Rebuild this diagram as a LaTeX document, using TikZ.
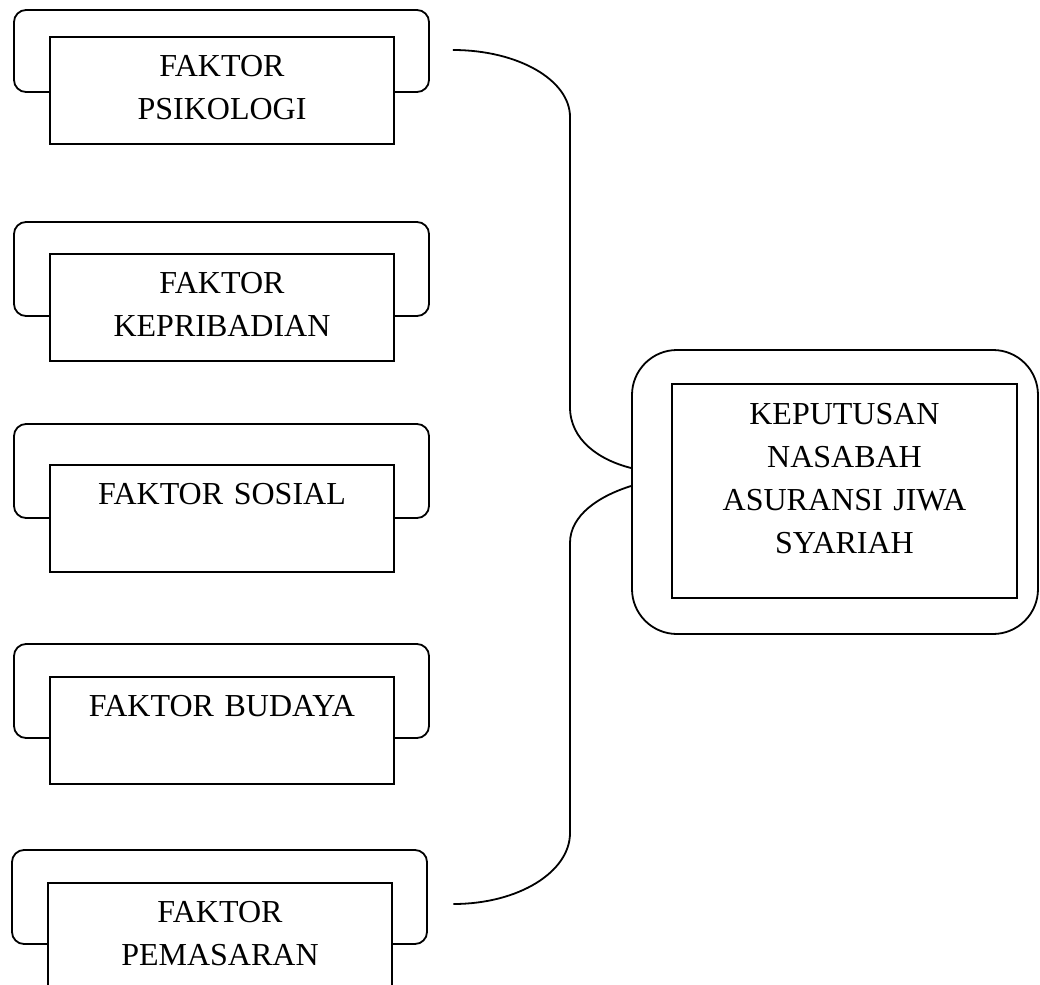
\documentclass[tikz,border=0pt]{standalone}
\usepackage{fontspec}
\setmainfont{Liberation Serif}
\usetikzlibrary{positioning,calc}
\tikzset{
  frame/.style={draw, line width=0.9pt, rounded corners=6pt, minimum width=207.5pt, minimum height=47pt, inner sep=0pt},
  factor/.style={draw, fill=white, line width=0.9pt, anchor=north, inner sep=0pt, text width=172pt, align=center, text height=20pt, text depth=33.5pt},
  link/.style={draw, line width=0.9pt}
}
\begin{document}
\begin{tikzpicture}[x=0.5pt,y=-0.5pt,font=\fontsize{16pt}{21.5pt}\selectfont]
  \useasboundingbox (0,0) rectangle (1040,985);
  % faktor-faktor
  \node[frame, minimum height=41pt] (fpsi) at (221.5,51) {};
  \node[factor] (psikologi) at (222,36) {FAKTOR\\PSIKOLOGI};
  \node[frame] (fkep) at (221.5,269) {};
  \node[factor] (kepribadian) at (222,253) {FAKTOR\\KEPRIBADIAN};
  \node[frame] (fsos) at (221.5,471) {};
  \node[factor] (sosial) at (222,464) {FAKTOR SOSIAL};
  \node[frame] (fbud) at (221.5,691) {};
  \node[factor] (budaya) at (222,676) {FAKTOR BUDAYA};
  \node[frame] (fpem) at (219.5,897) {};
  \node[factor] (pemasaran) at (220,882) {FAKTOR\\PEMASARAN};
  % keputusan
  \node[frame, rounded corners=22.5pt, minimum width=203pt, minimum height=142pt] (fkeput) at (835,492) {};
  \node[factor, text width=172.5pt, text height=20.5pt, text depth=86.5pt] (keputusan) at (844.5,383) {KEPUTUSAN\\NASABAH\\ASURANSI JIWA\\SYARIAH};
  % penghubung
  \coordinate (psiend) at ($(fpsi.east)+(23,-1)$);
  \coordinate (pemend) at ($(fpem.east)+(25.5,7)$);
  \coordinate (kepin1) at ($(fkeput.west)+(0,-24)$);
  \coordinate (kepin2) at ($(fkeput.west)+(0,-6)$);
  \path[link] (psiend) .. controls +(65,0) and +(0,-37) .. (570,117) -- (570,407) .. controls +(0,33) and +(-32,-8) .. (kepin1);
  \path[link] (kepin2) .. controls +(-32,10) and +(0,-28) .. (570,543) -- (570,833) .. controls +(0,39) and +(65,0) .. (pemend);
\end{tikzpicture}
\end{document}
